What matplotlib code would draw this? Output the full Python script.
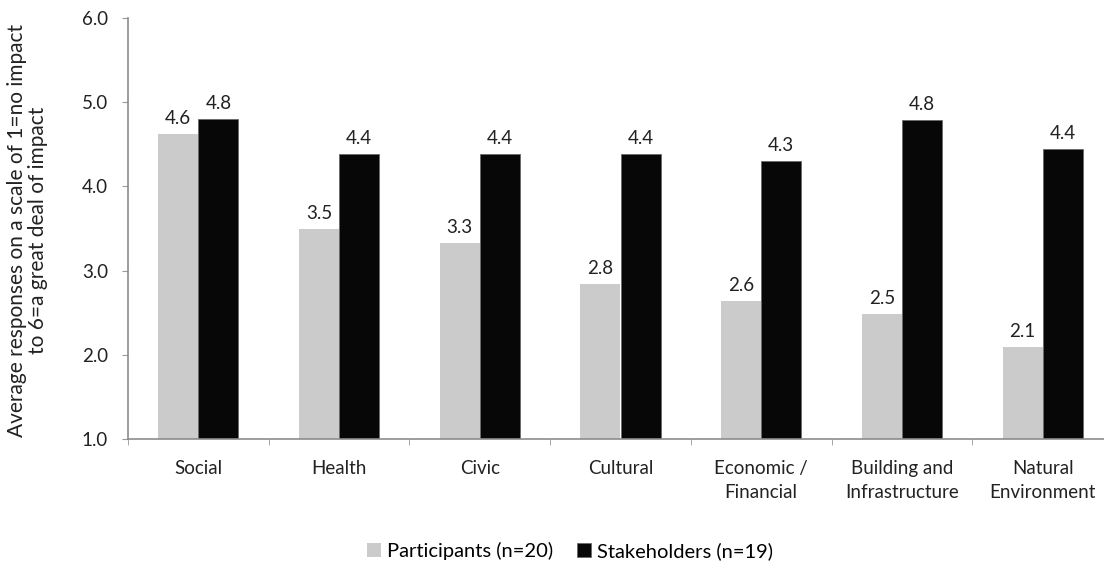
import numpy as np
import matplotlib
matplotlib.use("Agg")
import matplotlib.pyplot as plt

# data
categories = ["Social", "Health", "Civic", "Cultural", "Economic /\nFinancial",
              "Building and\nInfrastructure", "Natural\nEnvironment"]
participants = [4.62, 3.50, 3.33, 2.84, 2.64, 2.49, 2.09]
stakeholders = [4.80, 4.39, 4.38, 4.38, 4.30, 4.79, 4.44]
yticks = [1.0, 2.0, 3.0, 4.0, 5.0, 6.0]

plt.rcParams['font.family'] = ['Lato', 'DejaVu Sans']

fig = plt.figure(figsize=(11.04, 5.69), dpi=100)
ax = fig.add_axes([128 / 1104, 130 / 569, 985 / 1104, 421 / 569])

x = np.arange(len(categories))
w = 0.285
gray = "#cbcbcb"
dark = "#070707"

b1 = ax.bar(x - w / 2, participants, w, color=gray, label="Participants (n=20)", zorder=2)
b2 = ax.bar(x + w / 2, stakeholders, w, color=dark, edgecolor="#6a6a6a", linewidth=0.6,
            label="Stakeholders (n=19)", zorder=2)

# labels above bars
for bars, vals in ((b1, participants), (b2, stakeholders)):
    for rect, v in zip(bars, vals):
        ax.annotate(f"{v:.1f}", (rect.get_x() + rect.get_width() / 2, v),
                    xytext=(0, 5), textcoords="offset points",
                    ha="center", va="bottom", fontsize=13.5, color="#222222")

ax.set_ylim(1.0, 6.0)
ax.set_xlim(-0.5, len(categories) - 0.5)
ax.set_yticks(yticks)
ax.set_yticklabels([f"{t:.1f}" for t in yticks])

ax.set_xticks(x)
ax.set_xticklabels(categories, fontsize=13.5, color="#222222", linespacing=1.5)
ax.set_xticks(np.arange(-0.5, len(categories) + 0.5, 1), minor=True)
ax.tick_params(axis="x", which="major", length=0, pad=15)
ax.tick_params(axis="x", which="minor", length=4, color="#999999", direction="out")
ax.tick_params(axis="y", length=4.5, color="#999999", pad=10, labelsize=13.5, labelcolor="#222222")

for s in ("top", "right"):
    ax.spines[s].set_visible(False)
for s in ("left", "bottom"):
    ax.spines[s].set_color("#8c8c8c")
    ax.spines[s].set_linewidth(1.2)

ax.set_ylabel("Average responses on a scale of 1=no impact\nto 6=a great deal of impact",
              fontsize=15, color="#222222", linespacing=1.05)
ax.yaxis.set_label_coords(-0.081, 0.495)

fig.legend(handles=[b1, b2], loc="center", bbox_to_anchor=(570 / 1104, 1 - 551 / 569),
           ncol=2, frameon=False, fontsize=14.5, handlelength=0.7, handleheight=0.7,
           handletextpad=0.3, columnspacing=1.2)

plt.savefig("out.png", dpi=100)
